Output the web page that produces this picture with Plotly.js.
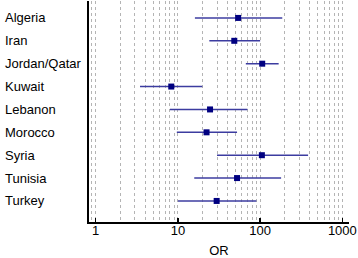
<!DOCTYPE html>
<html><head><meta charset="utf-8">
<script src="https://cdn.plot.ly/plotly-3.0.1.min.js"></script>
<style>html,body{margin:0;padding:0;background:#fff}#chart{width:358px;height:258px}</style>
</head><body><div id="chart"></div>
<script>
const countries = ["Algeria","Iran","Jordan/Qatar","Kuwait","Lebanon","Morocco","Syria","Tunisia","Turkey"];
const orValues = [54, 48.5, 106, 8.3, 24.6, 22.3, 105, 52.4, 29.6];
const ciLower = [16.1, 24.1, 67, 3.46, 8.0, 9.7, 29.9, 15.8, 10.0];
const ciUpper = [186, 100, 168, 19.8, 70, 52.4, 383, 180, 90];
const xTickVals = [1, 10, 100, 1000];
const xTickText = ["1", "10", "100", "1000"];

const trace = {
  type: 'scatter', mode: 'markers',
  x: orValues, y: countries,
  marker: {symbol: 'square', size: 6, color: '#000080'},
  error_x: {
    type: 'data', symmetric: false,
    array: ciUpper.map((u, i) => u - orValues[i]),
    arrayminus: ciLower.map((l, i) => orValues[i] - l),
    width: 0, thickness: 1.6, color: '#3c3ca0'
  },
  hoverinfo: 'skip'
};

const annotations = countries.map(c => ({
  xref: 'paper', yref: 'y', x: -0.331, y: c, xanchor: 'left', yanchor: 'middle',
  text: c, showarrow: false, font: {family: 'Liberation Sans, Arial, sans-serif', size: 13, color: '#000'}
}));

const layout = {
  width: 358, height: 258,
  margin: {l: 89, r: 9, t: 1, b: 36},
  paper_bgcolor: '#fff', plot_bgcolor: '#fff',
  showlegend: false,
  font: {family: 'Liberation Sans, Arial, sans-serif', size: 13, color: '#000'},
  xaxis: {
    type: 'log', range: [-0.0815, 3.081],
    tickvals: xTickVals, ticktext: xTickText,
    ticks: 'inside', ticklen: 4, tickwidth: 1.5, tickcolor: '#000',
    ticklabelstandoff: -4,
    showline: true, linecolor: '#000', linewidth: 1.5,
    showgrid: true, gridcolor: '#b4b4b4', gridwidth: 1, griddash: 'dot',
    minor: {dtick: 'D1', showgrid: true, gridcolor: '#b4b4b4', gridwidth: 1, griddash: 'dot', ticks: ''},
    zeroline: false,
    tickfont: {size: 13, color: '#000'},
    title: {text: 'OR', font: {size: 13, color: '#000'}, standoff: 10}
  },
  yaxis: {
    type: 'category', categoryorder: 'array', categoryarray: countries,
    range: [8.92, -0.74],
    showticklabels: false, ticks: '', showgrid: false, zeroline: false,
    showline: true, linecolor: '#000', linewidth: 2
  },
  annotations: annotations
};

Plotly.newPlot('chart', [trace], layout, {staticPlot: true, displayModeBar: false});
</script></body></html>
